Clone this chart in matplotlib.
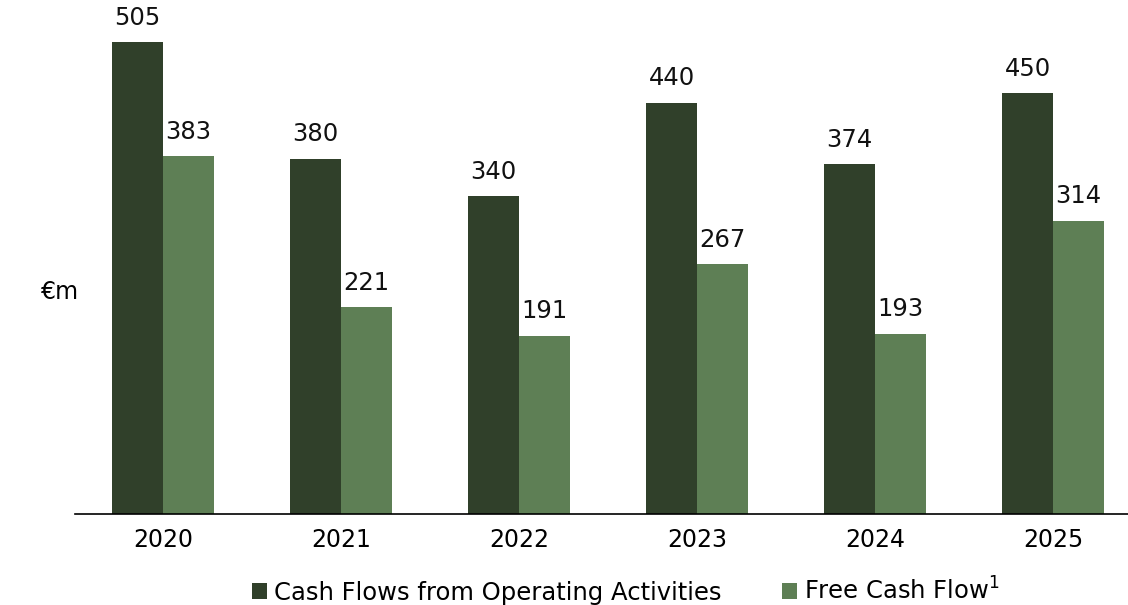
import matplotlib as mpl
mpl.use('Agg')
import matplotlib.pyplot as plt
import numpy as np

# Data
years = ['2020', '2021', '2022', '2023', '2024', '2025']
operating = [505, 380, 340, 440, 374, 450]
freeCash = [383, 221, 191, 267, 193, 314]

darkGreen = '#30402a'
lightGreen = '#5e7f55'

plt.rcParams['font.family'] = ['DejaVu Sans']

fig = plt.figure(figsize=(11.28, 6.05), dpi=100)
ax = fig.add_axes([75 / 1128, 0.1504, 1053 / 1128, 0.8496])

x = np.arange(len(years))
w = 0.285
b1 = ax.bar(x - w / 2, operating, w, color=darkGreen,
            label='Cash Flows from Operating Activities')
b2 = ax.bar(x + w / 2, freeCash, w, color=lightGreen,
            label='Free Cash Flow$^{\\mathregular{1}}$')

for bars, vals in [(b1, operating), (b2, freeCash)]:
    for r, v in zip(bars, vals):
        ax.annotate(str(v), (r.get_x() + r.get_width() / 2, v),
                    xytext=(0, 9), textcoords='offset points',
                    ha='center', va='bottom', fontsize=17.5, color='#111111')

ax.set_xlim(-0.494, 5.42)
ax.set_ylim(0, 550)
ax.set_xticks(x)
ax.set_xticklabels(years, fontsize=17)
ax.tick_params(axis='x', length=0, pad=10)
ax.set_yticks([])
for s in ['top', 'right', 'left']:
    ax.spines[s].set_visible(False)
ax.spines['bottom'].set_linewidth(1.2)

fig.text(0.053, 0.518, '€m', fontsize=17, ha='center', va='center')

fig.legend(handles=[b1, b2], loc='center', bbox_to_anchor=(0.555, 0.023),
           ncol=2, frameon=False, fontsize=17.5, handlelength=0.6,
           handleheight=0.6, handletextpad=0.3, columnspacing=2.5)

fig.savefig('out.png', dpi=100)
